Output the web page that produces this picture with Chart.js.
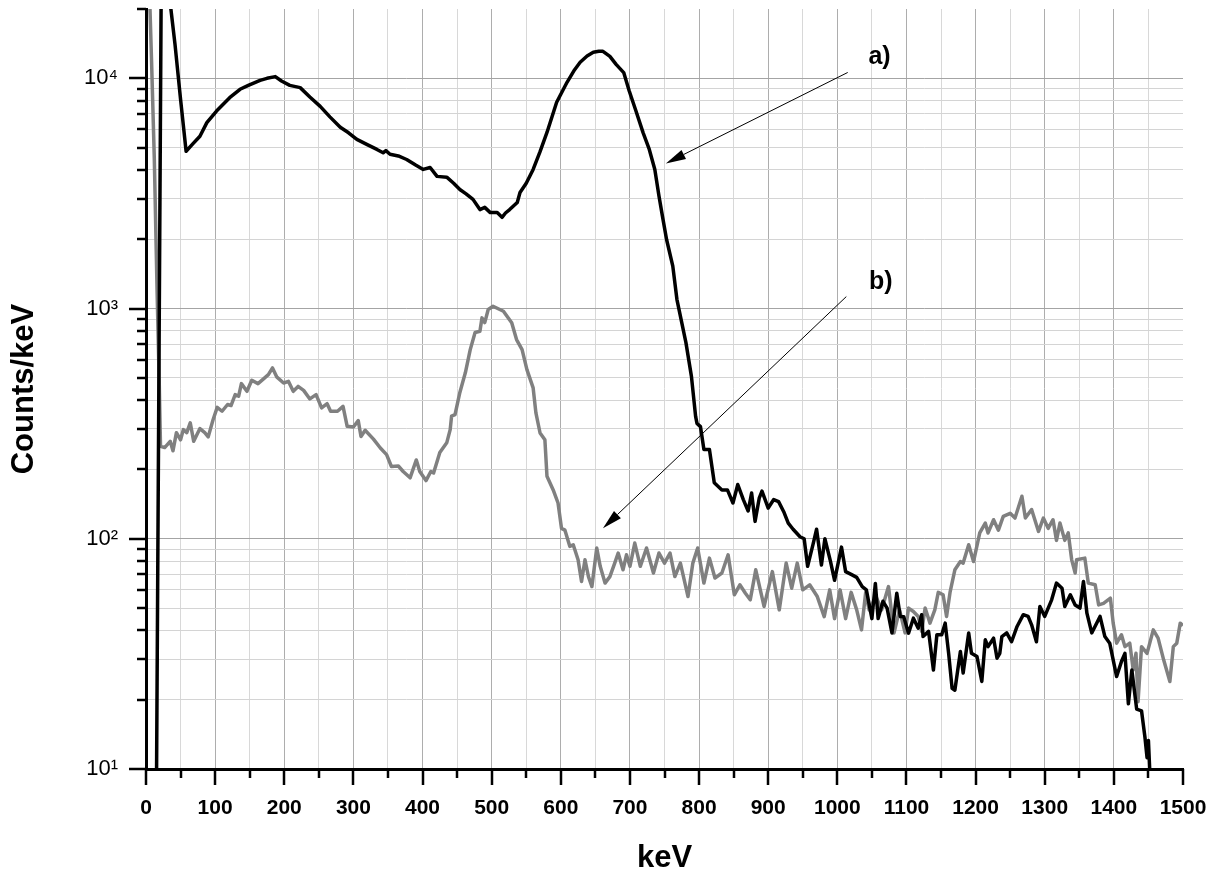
<!DOCTYPE html>
<html><head><meta charset="utf-8">
<script src="https://cdn.jsdelivr.net/npm/chart.js"></script>
<style>html,body{margin:0;padding:0;background:#fff;} canvas{display:block;}</style>
</head><body>
<canvas id="c" width="1210" height="874"></canvas>
<script>
// Spectrum a) (black)
const A_KEV = [15,22,28,36,42,50,58,68,78,88,102,121,136,148,165,175,187,196,208,223,237,252,266,281,293,305,320,334,343,347,353,365,377,390,401,411,421,435,445,454,463,473,483,490,498,508,515,520,526,537,541,550,560,570,580,594,609,620,628,638,647,655,661,671,680,691,699,708,719,728,736,742,747,753,762,768,781,789,795,797,802,807,815,822,833,841,849,856,864,871,876,881,887,891,900,908,915,923,929,936,946,952,957,965,970,977,982,990,996,1006,1012,1020,1028,1036,1042,1050,1055,1059,1066,1072,1079,1086,1091,1096,1103,1110,1117,1122,1124,1132,1139,1144,1151,1156,1161,1166,1170,1178,1182,1190,1194,1202,1209,1214,1218,1226,1231,1235,1238,1245,1252,1260,1269,1276,1281,1288,1293,1300,1310,1317,1325,1329,1337,1344,1351,1356,1361,1368,1380,1387,1394,1404,1411,1416,1421,1426,1433,1440,1445,1448,1450,1452,1455];
const A_COUNTS = [7,25000,60000,20000,14000,8100,4820,5200,5600,6420,7210,8240,8960,9320,9800,10000,10170,9730,9320,9110,8300,7550,6800,6130,5800,5430,5150,4910,4750,4850,4680,4600,4440,4200,4020,4100,3750,3720,3500,3290,3150,2980,2690,2750,2610,2610,2490,2600,2690,2890,3190,3500,4020,4800,5820,7870,9610,10900,11740,12500,12980,13100,13100,12460,11500,10590,8810,7320,5810,4910,4020,3080,2520,1995,1528,1094,711,506,340,317,307,244,244,175,163,163,143,172,148,132,158,119,150,161,136,148,145,130,117,110,102,100,76,95,110,77,100,80,66,92,72,70,68,62,60,45,64,45,53.5,50,39,58,46,45.9,38.9,45.2,40.9,46.8,37.6,39.6,26.9,38.3,38.3,43,31.8,22.4,22,32.4,26.1,39,31.8,30.8,24,36.4,34,37,30.3,31.8,37.6,39,35.7,41.6,46.8,46,42.3,35.7,50.8,46,54.3,64.2,61,50.8,57.1,51.6,50,65.2,47.5,39,46,37.6,35.2,25.2,29.3,31.8,19.2,26.9,18.2,17.9,13.7,11.2,13.3,9.7,5];

// Spectrum b) (grey)
const B_KEV = [4,8,12,16,19,21,27,35,39,44,50,54,59,64,69,78,85,90,97,103,110,118,123,129,134,138,146,153,162,170,177,183,189,199,206,213,220,228,237,246,254,262,267,277,285,291,300,307,311,317,329,339,348,355,365,372,382,391,396,405,412,416,425,435,440,442,447,454,462,469,476,483,486,490,495,502,517,529,536,544,551,560,564,570,577,580,589,596,601,606,613,618,625,630,635,640,645,652,657,664,671,678,683,690,695,700,707,715,724,734,742,750,758,765,773,784,791,798,807,815,823,833,842,851,859,867,874,882,894,906,916,926,934,942,950,960,971,981,989,996,1004,1012,1020,1028,1035,1041,1046,1056,1064,1074,1082,1090,1098,1103,1110,1117,1122,1127,1134,1141,1146,1153,1158,1163,1170,1178,1182,1190,1197,1206,1214,1218,1226,1233,1240,1250,1257,1267,1272,1281,1291,1298,1305,1312,1317,1322,1329,1334,1339,1344,1346,1358,1363,1373,1378,1385,1395,1399,1404,1411,1416,1423,1428,1432,1435,1440,1448,1457,1464,1472,1481,1486,1491,1496,1500];
const B_COUNTS = [30000,12000,4500,1200,500,252,249,265,241,289,269,298,289,319,265,301,289,277,329,372,358,383,379,423,416,472,437,488,472,495,516,552,505,475,483,437,459,441,405,423,370,386,358,358,376,308,306,326,278,296,271,248,232,206,207,196,184,220,196,179,196,193,237,261,298,341,346,432,527,663,787,797,911,869,991,1023,973,867,733,663,543,452,352,288,269,187,163,143,111,109,92.7,94.2,81,65.2,81,68.5,62,91.2,75.9,64.2,68.5,78.4,86.7,73.3,85.2,75.9,95.8,75.9,91.2,71,86.7,78.4,86.7,68.5,78.4,56.1,78.4,91.2,64.2,82.4,67.5,71,85.2,57.1,63.1,58,54.3,73.3,50.8,72,49.1,78.4,61,78.4,60,63.1,56.1,45.9,60,45,60,45,58.5,49.1,40.2,58.5,49.1,56.1,49.1,62,39,49.1,39,50,48.3,46,39.6,50,43,49.1,58.5,57.1,46,58.5,73.3,79.6,78.4,94.2,79.6,106,117,106,121,109,125,129,123,153,123,134,107.6,123,111,121,98.4,117,98.4,106,81,71,81,82.4,64.2,63.1,51.6,52.4,55.2,43,35.2,38.3,34,35.2,26.9,31.8,19.6,34,31.8,40.2,37,29.8,24,34,35.2,43,42];

// Axis ticks
const X_TICKS = [0,50,100,150,200,250,300,350,400,450,500,550,600,650,700,750,800,850,900,950,1000,1050,1100,1150,1200,1250,1300,1350,1400,1450,1500];
const Y_TICKS = [10,20,30,40,50,60,70,80,90,100,200,300,400,500,600,700,800,900,1000,2000,3000,4000,5000,6000,7000,8000,9000,10000,20000];
const Y_DECADES = [10,100,1000,10000];
const Y_DECADE_LABELS = ['10\u00B9','10\u00B2','10\u00B3','10\u2074'];

// Annotations (data coordinates)
const NOTE_TEXT = ['a)','b)'];
const NOTE_KEV = [1061,1063];
const NOTE_COUNTS = [12330,1304];
const ARROW_FROM_KEV = [1015,1013];
const ARROW_FROM_COUNTS = [10600,1127];
const ARROW_TO_KEV = [752,661];
const ARROW_TO_COUNTS = [4270,111];

const FONT = "'Liberation Sans', Arial, sans-serif";

const tickMarks = {
  id: 'tickMarks',
  afterDraw(chart) {
    const {ctx, chartArea} = chart;
    const xs = chart.scales.x, ys = chart.scales.y;
    ctx.save();
    ctx.strokeStyle = '#000';
    ctx.lineWidth = 2.5;
    ctx.beginPath();
    ys.ticks.forEach(t => {
      const py = Math.round(ys.getPixelForValue(t.value));
      const len = Y_DECADES.includes(t.value) ? 17 : 9;
      ctx.moveTo(chartArea.left - len, py);
      ctx.lineTo(chartArea.left, py);
    });
    xs.ticks.forEach(t => {
      const px = Math.round(xs.getPixelForValue(t.value));
      const len = t.value % 100 === 0 ? 16 : 9;
      ctx.moveTo(px, chartArea.bottom);
      ctx.lineTo(px, chartArea.bottom + len);
    });
    ctx.stroke();
    ctx.restore();
  }
};

const notes = {
  id: 'notes',
  afterDraw(chart) {
    const {ctx} = chart;
    const xs = chart.scales.x, ys = chart.scales.y;
    ctx.save();
    ctx.fillStyle = '#000';
    ctx.strokeStyle = '#000';
    ctx.lineWidth = 1;
    for (let i = 0; i < NOTE_TEXT.length; i++) {
      const x1 = xs.getPixelForValue(ARROW_FROM_KEV[i]);
      const y1 = ys.getPixelForValue(ARROW_FROM_COUNTS[i]);
      const x2 = xs.getPixelForValue(ARROW_TO_KEV[i]);
      const y2 = ys.getPixelForValue(ARROW_TO_COUNTS[i]);
      const ang = Math.atan2(y2 - y1, x2 - x1);
      const L = 20, W = 5;
      const bx = x2 - L * Math.cos(ang), by = y2 - L * Math.sin(ang);
      ctx.beginPath();
      ctx.moveTo(x1, y1);
      ctx.lineTo(bx, by);
      ctx.stroke();
      ctx.beginPath();
      ctx.moveTo(x2, y2);
      ctx.lineTo(bx + W * Math.sin(ang), by - W * Math.cos(ang));
      ctx.lineTo(bx - W * Math.sin(ang), by + W * Math.cos(ang));
      ctx.closePath();
      ctx.fill();
      ctx.font = 'bold 25px ' + FONT;
      ctx.textAlign = 'center';
      ctx.textBaseline = 'middle';
      ctx.fillText(NOTE_TEXT[i], xs.getPixelForValue(NOTE_KEV[i]), ys.getPixelForValue(NOTE_COUNTS[i]));
    }
    ctx.restore();
  }
};

new Chart(document.getElementById('c'), {
  type: 'line',
  data: {
    datasets: [
      { label: 'a)', data: A_KEV.map((k, i) => ({x: k, y: A_COUNTS[i]})),
        borderColor: '#000000', borderWidth: 3.5, pointRadius: 0, tension: 0, fill: false, borderJoinStyle: 'round' },
      { label: 'b)', data: B_KEV.map((k, i) => ({x: k, y: B_COUNTS[i]})),
        borderColor: '#808080', borderWidth: 3.5, pointRadius: 0, tension: 0, fill: false, borderJoinStyle: 'round' }
    ]
  },
  options: {
    responsive: false,
    animation: false,
    devicePixelRatio: 1,
    layout: { padding: { left: 0, right: 27, top: 9, bottom: 0 } },
    plugins: { legend: { display: false }, tooltip: { enabled: false } },
    scales: {
      x: {
        type: 'linear', min: 0, max: 1500,
        afterBuildTicks: s => { s.ticks = X_TICKS.map(v => ({value: v})); },
        afterFit: s => { s.height = 105; s.paddingLeft = 0; s.paddingRight = 0; },
        ticks: { autoSkip: false, maxRotation: 0, minRotation: 0, padding: 27, color: '#000',
                 font: { family: FONT, size: 21, weight: 'bold' },
                 callback: v => (v % 100 === 0 ? String(v) : '') },
        grid: { drawTicks: false, lineWidth: 1,
                color: c => { const v = c.tick ? c.tick.value : 0; if (v === 1500) return 'rgba(0,0,0,0)'; return v % 100 === 0 ? '#adadad' : '#d8d8d8'; } },
        border: { display: true, color: '#000', width: 3 },
        title: { display: true, text: 'keV', color: '#000',
                 font: { family: FONT, size: 31, weight: 'bold', lineHeight: 1 }, padding: { top: 0, bottom: 0 } }
      },
      y: {
        type: 'logarithmic', min: 10, max: 20000,
        afterBuildTicks: s => { s.ticks = Y_TICKS.map(v => ({value: v})); },
        afterFit: s => { s.width = 146; s.paddingTop = 0; s.paddingBottom = 0; },
        ticks: { autoSkip: false, padding: 28, color: '#000',
                 font: { family: FONT, size: 22 },
                 callback: v => { const k = Y_DECADES.indexOf(v); return k >= 0 ? Y_DECADE_LABELS[k] : ''; } },
        grid: { drawTicks: false, lineWidth: 1,
                color: c => { const v = c.tick ? c.tick.value : 0; if (v === 20000) return 'rgba(0,0,0,0)'; return Y_DECADES.includes(v) ? '#a4a4a4' : '#d4d4d4'; } },
        border: { display: true, color: '#000', width: 3 },
        title: { display: true, text: 'Counts/keV', color: '#000',
                 font: { family: FONT, size: 31, weight: 'bold', lineHeight: 1 }, padding: { top: 9, bottom: 0 } }
      }
    }
  },
  plugins: [tickMarks, notes]
});
</script>
</body></html>
